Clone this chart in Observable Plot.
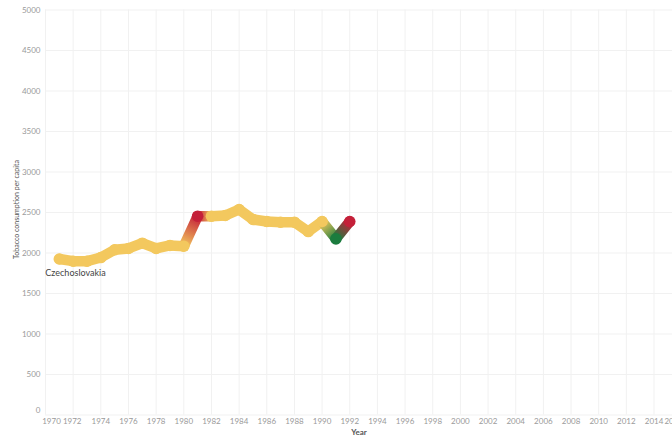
<!DOCTYPE html>
<html><head><meta charset="utf-8">
<script src="https://cdn.jsdelivr.net/npm/d3@7"></script>
<script src="https://cdn.jsdelivr.net/npm/@observablehq/plot@0.6"></script>
<style>html,body{margin:0;padding:0;background:#fff;overflow:hidden}</style>
</head><body><div id="chart"></div>
<script>
const country = "Czechoslovakia";
const years = [1971,1972,1973,1974,1975,1976,1977,1978,1979,1980,1981,1982,1983,1984,1985,1986,1987,1988,1989,1990,1991,1992];
const consumption = [1926,1899,1899,1944,2040,2056,2121,2056,2093,2084,2454,2454,2463,2537,2414,2389,2380,2380,2265,2389,2175,2389];
const xTicks = [1970,1972,1974,1976,1978,1980,1982,1984,1986,1988,1990,1992,1994,1996,1998,2000,2002,2004,2006,2008,2010,2012,2014,2016];
const yTicks = [0,500,1000,1500,2000,2500,3000,3500,4000,4500,5000];
const colorDomain = [-200,-150,150,200];
const colorRange = ["#1b7c3e","#f3c85e","#f3c85e","#c42039"];

const data = years.map((year,i)=>({year, value: consumption[i], change: i ? consumption[i]-consumption[i-1] : 0}));
const segs = data.slice(1).map((d,i)=>({a: data[i], b: d}));

const tickStyle = {tickSize: 0, fontSize: 8, fill: "#9a9a9a", label: null, tickFormat: d => String(d)};
const plot = Plot.plot({
  width: 672, height: 438,
  marginLeft: 45, marginRight: 0, marginTop: 9.5, marginBottom: 23.5,
  style: {fontFamily: "Lato, sans-serif", background: "#fff"},
  x: {domain: [1970, 1970 + 627/13.83]},
  y: {domain: [0, 5000]},
  color: {type: "linear", domain: colorDomain, range: colorRange, clamp: true},
  marks: [
    Plot.gridX(xTicks, {stroke: "#f1f1f1", strokeOpacity: 1}),
    Plot.gridY(yTicks, {stroke: "#f1f1f1", strokeOpacity: 1}),
    Plot.axisY(yTicks.filter(t => t > 0), {...tickStyle, tickPadding: 5}),
    Plot.axisY([0], {...tickStyle, tickPadding: 5, dy: -5}),
    Plot.axisX(xTicks.filter(t => t > 1972 && t < 2016), {...tickStyle, tickPadding: 3}),
    Plot.axisX([1970], {...tickStyle, tickPadding: 3, dx: 6}),
    Plot.axisX([1972], {...tickStyle, tickPadding: 3, dx: -1}),
    Plot.axisX([2016], {...tickStyle, tickPadding: 3, dx: -8}),
    Plot.link(segs, {x1: d => d.a.year, y1: d => d.a.value, x2: d => d.b.year, y2: d => d.b.value,
      stroke: d => d.a.change, strokeWidth: 10.5, strokeLinecap: "round"}),
    Plot.dot(data, {x: "year", y: "value", r: 5.8, fill: "change"}),
    Plot.text([data[0]], {x: "year", y: "value", text: () => country, textAnchor: "start", dx: -14, dy: 14.5, fontSize: 9, fill: "#444"}),
    Plot.text(["Year"], {frameAnchor: "bottom", dy: 20, fontWeight: "bold", fontSize: 8, fill: "#555"}),
    Plot.text(["Tobacco consumption per capita"], {frameAnchor: "left", textAnchor: "middle", rotate: -90, dx: -29, dy: -3, fontSize: 7, fill: "#555"})
  ]
});
document.getElementById("chart").append(plot);

const X = plot.scale("x"), Y = plot.scale("y"), C = plot.scale("color");
const defs = d3.select(plot).insert("defs", ":first-child");
segs.forEach((s, i) => {
  const g = defs.append("linearGradient").attr("id", "seg" + i).attr("gradientUnits", "userSpaceOnUse")
    .attr("x1", X.apply(s.a.year)).attr("y1", Y.apply(s.a.value))
    .attr("x2", X.apply(s.b.year)).attr("y2", Y.apply(s.b.value));
  g.append("stop").attr("offset", 0).attr("stop-color", C.apply(s.a.change));
  g.append("stop").attr("offset", 1).attr("stop-color", C.apply(s.b.change));
});
d3.select(plot).selectAll('g[aria-label="link"] path').attr("stroke", (_, i) => `url(#seg${i})`);
</script>
</body></html>
